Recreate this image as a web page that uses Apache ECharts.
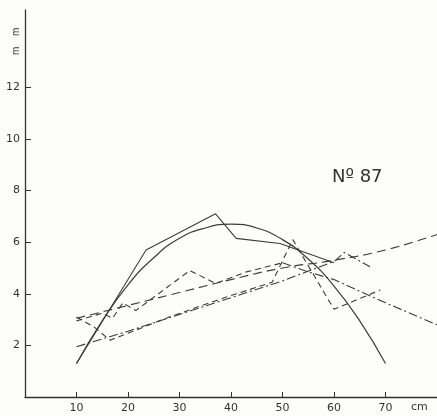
<!DOCTYPE html>
<html><head><meta charset="utf-8">
<script src="https://cdn.jsdelivr.net/npm/echarts@6/dist/echarts.min.js"></script>
<style>html,body{margin:0;padding:0;background:#fdfdfb}#c{width:437px;height:416px}</style>
</head><body><div id="c"></div>
<script>
// fitted smooth curve (solid)
const sfX = [10,15,20,25,30,35,40,45,50,55,60,65,70];
const sfY = [1.3,2.95,4.35,5.4,6.15,6.55,6.7,6.55,6.1,5.35,4.3,2.95,1.3];
// observed solid polyline
const sX = [10,23.5,37,41,49.5,60];
const sY = [1.3,5.7,7.1,6.15,5.95,5.2];
// long-dash rising curve
const cX = [10,20,30,40,50,60,70,80];
const cY = [3.05,3.55,4.05,4.55,5.0,5.3,5.7,6.3];
// dash-dot rising line
const dX = [10,20,30,40,50,60,62,67];
const dY = [1.95,2.55,3.2,3.85,4.5,5.25,5.6,5.05];
// dashed jagged line B
const bX = [10,13.5,16.5,28,38,48,52,60,69];
const bY = [3.1,2.7,2.2,3.1,3.8,4.45,6.1,3.4,4.15];
// dashed jagged line E
const eX = [10,15,17,19,21.5,32,37,43,50];
const eY = [2.95,3.25,3.05,3.65,3.35,4.9,4.4,4.85,5.2];
// dash-dot declining continuation
const e2X = [50,55,60,70,80];
const e2Y = [5.2,4.85,4.55,3.65,2.8];
const xTicks = [10,20,30,40,50,60,70];
const yTicks = [2,4,6,8,10,12];

const zip = (xs, ys) => xs.map((x, i) => [x, ys[i]]);
const ink = '#3c3c3c';
const mk = (xs, ys, type, smooth, w) => ({
  type: 'line', data: zip(xs, ys), showSymbol: false, smooth: smooth || false,
  lineStyle: { color: ink, width: w || 1.1, type: type }, animation: false
});
const unitM = (px, py) => ({
  type: 'group', x: px, y: py, rotation: Math.PI / 2,
  children: [{ type: 'text', x: 0, y: 0, style: { text: 'm', fontSize: 10, fill: '#333', fontFamily: 'Liberation Sans', verticalAlign: 'top', align: 'left' } }]
});

const chart = echarts.init(document.getElementById('c'));
chart.setOption({
  backgroundColor: '#fdfdfb',
  grid: { left: 25, right: 0, top: 10, bottom: 19 },
  xAxis: {
    type: 'value', min: 0, max: 80, interval: 10,
    axisLine: { lineStyle: { color: '#333', width: 1.3 } },
    axisTick: { inside: true, length: 5, customValues: xTicks, lineStyle: { color: '#333' } },
    axisLabel: { customValues: xTicks, color: '#333', fontSize: 11, margin: 6, fontFamily: 'DejaVu Sans' },
    splitLine: { show: false }
  },
  yAxis: {
    type: 'value', min: 0, max: 15, interval: 2,
    axisLine: { show: true, lineStyle: { color: '#333', width: 1.3 } },
    axisTick: { show: true, inside: true, length: 6, customValues: yTicks, lineStyle: { color: '#333' } },
    axisLabel: { customValues: yTicks, color: '#333', fontSize: 11, margin: 5, fontFamily: 'DejaVu Sans' },
    splitLine: { show: false }
  },
  graphic: [
    { type: 'text', left: 411, top: 402, style: { text: 'cm', fontSize: 11, fill: '#333', fontFamily: 'DejaVu Sans' } },
    unitM(11, 55),
    unitM(11, 36),
    { type: 'text', left: 332, top: 168, style: { text: 'Nº 87', fontSize: 18, fill: '#333', fontFamily: 'DejaVu Sans' } }
  ],
  series: [
    mk(sfX, sfY, 'solid', true, 1.2),
    mk(sX, sY, 'solid', false, 1.1),
    mk(cX, cY, [9, 5], true),
    mk(dX, dY, [9, 3, 2, 3], false),
    mk(bX, bY, [6, 4], false),
    mk(eX, eY, [6, 4], false),
    mk(e2X, e2Y, [9, 3, 2, 3], false)
  ]
});
</script></body></html>
